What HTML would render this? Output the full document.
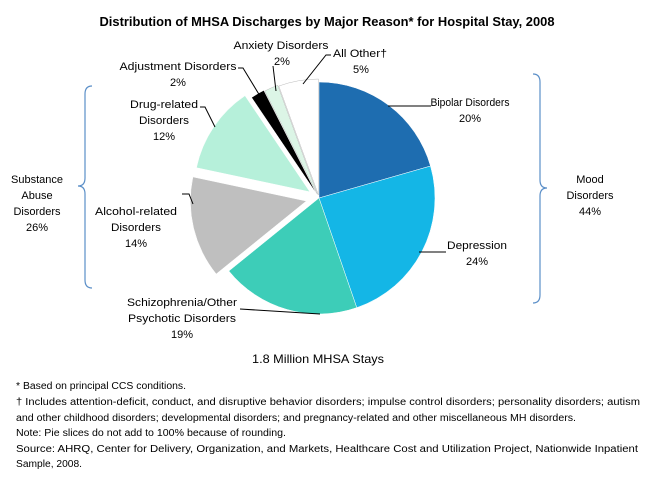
<!DOCTYPE html>
<html><head><meta charset="utf-8"><style>
html,body{margin:0;padding:0;background:#fff}
svg{display:block}
text{font-family:"Liberation Sans",sans-serif;fill:#000}
</style></head><body>
<svg width="654" height="477" viewBox="0 0 654 477" xmlns="http://www.w3.org/2000/svg">
<text x="327" y="26" font-size="13" font-weight="bold" text-anchor="middle" textLength="455" lengthAdjust="spacingAndGlyphs">Distribution of MHSA Discharges by Major Reason* for Hospital Stay, 2008</text>
<g id="pie" stroke="#fff" stroke-width="0.5"></g>
<g stroke="#000" stroke-width="1" fill="none">
<polyline points="388,106 431,106"/>
<polyline points="419,252 446,252"/>
<polyline points="240,309 320,314"/>
<polyline points="182,194 189,194 193,204"/>
<polyline points="200,107 205,107 215,127"/>
<polyline points="238,68 243,68 260,96"/>
<polyline points="273,66 276,91"/>
<polyline points="331,55 326,55 303,84"/>
</g>
<g stroke="#5b8fc8" stroke-width="1.2" fill="none">
<path d="M92,86 Q85,86 85,94 L85,178 Q85,186 78,186 Q85,186 85,194 L85,280 Q85,288 92,288"/>
<path d="M533,74 Q540,74 540,82 L540,180 Q540,188 547,188 Q540,188 540,196 L540,295 Q540,303 533,303"/>
</g>
<g font-size="11" text-anchor="middle" lengthAdjust="spacingAndGlyphs">
<text x="470" y="106" textLength="79" lengthAdjust="spacingAndGlyphs">Bipolar Disorders</text><text x="470" y="122">20%</text>
<text x="477" y="249" textLength="60" lengthAdjust="spacingAndGlyphs">Depression</text><text x="477" y="265">24%</text>
<text x="182" y="306" textLength="110" lengthAdjust="spacingAndGlyphs">Schizophrenia/Other</text><text x="182" y="322" textLength="108" lengthAdjust="spacingAndGlyphs">Psychotic Disorders</text><text x="182" y="338">19%</text>
<text x="136" y="215" textLength="82" lengthAdjust="spacingAndGlyphs">Alcohol-related</text><text x="136" y="231" textLength="50" lengthAdjust="spacingAndGlyphs">Disorders</text><text x="136" y="247">14%</text>
<text x="164" y="108" textLength="68" lengthAdjust="spacingAndGlyphs">Drug-related</text><text x="164" y="124" textLength="50" lengthAdjust="spacingAndGlyphs">Disorders</text><text x="164" y="140">12%</text>
<text x="178" y="70" textLength="117" lengthAdjust="spacingAndGlyphs">Adjustment Disorders</text><text x="178" y="86">2%</text>
<text x="281" y="49" textLength="95" lengthAdjust="spacingAndGlyphs">Anxiety Disorders</text><text x="282" y="65">2%</text>
<text x="360" y="57" textLength="54" lengthAdjust="spacingAndGlyphs">All Other†</text><text x="361" y="73">5%</text>
<text x="37" y="183">Substance</text><text x="37" y="199">Abuse</text><text x="37" y="215">Disorders</text><text x="37" y="231">26%</text>
<text x="590" y="183">Mood</text><text x="590" y="199">Disorders</text><text x="590" y="215">44%</text>
</g>
<text x="318" y="363" font-size="12" text-anchor="middle" textLength="132" lengthAdjust="spacingAndGlyphs">1.8 Million MHSA Stays</text>
<g font-size="10">
<text x="16" y="389" textLength="170" lengthAdjust="spacingAndGlyphs">* Based on principal CCS conditions.</text>
<text x="16" y="405" textLength="624" lengthAdjust="spacingAndGlyphs">† Includes attention-deficit, conduct, and disruptive behavior disorders; impulse control disorders; personality disorders; autism</text>
<text x="16" y="421" textLength="560" lengthAdjust="spacingAndGlyphs">and other childhood disorders; developmental disorders; and pregnancy-related and other miscellaneous MH disorders.</text>
<text x="16" y="436" textLength="270" lengthAdjust="spacingAndGlyphs">Note:  Pie slices do not add to 100% because of rounding.</text>
<text x="16" y="452" textLength="622" lengthAdjust="spacingAndGlyphs">Source:  AHRQ, Center for Delivery,  Organization, and Markets, Healthcare Cost and Utilization Project, Nationwide Inpatient</text>
<text x="16" y="467" textLength="66" lengthAdjust="spacingAndGlyphs">Sample, 2008.</text>
</g>
<script>
(function(){
var cx=319,cy=198,r=116;
var s=[[0,74,'#1e6db0',0],[74,161,'#14b6e6',0],[161,231,'#3dcdb8',0],[231,282,'#bfbfbf',13],[282,326,'#b6f0da',11],[326,333,'#000',5],[333,340,'#dcf5e6',4],[340,360,'#fff',3]];
var g=document.getElementById('pie'),ns='http://www.w3.org/2000/svg';
function pt(a,x,y){var t=a*Math.PI/180;return [x+r*Math.sin(t),y-r*Math.cos(t)];}
s.forEach(function(d){var m=(d[0]+d[1])/2*Math.PI/180;var x=cx+d[3]*Math.sin(m),y=cy-d[3]*Math.cos(m);
var p1=pt(d[0],x,y),p2=pt(d[1],x,y);var e=document.createElementNS(ns,'path');
e.setAttribute('d','M'+x+','+y+' L'+p1[0]+','+p1[1]+' A'+r+','+r+' 0 '+((d[1]-d[0])>180?1:0)+' 1 '+p2[0]+','+p2[1]+' Z');
e.setAttribute('fill',d[2]);if(d[2]=='#fff'||d[2]=='#dcf5e6'){e.setAttribute('stroke','#bbb');}
g.appendChild(e);});
})();
</script>
</svg>
</body></html>
